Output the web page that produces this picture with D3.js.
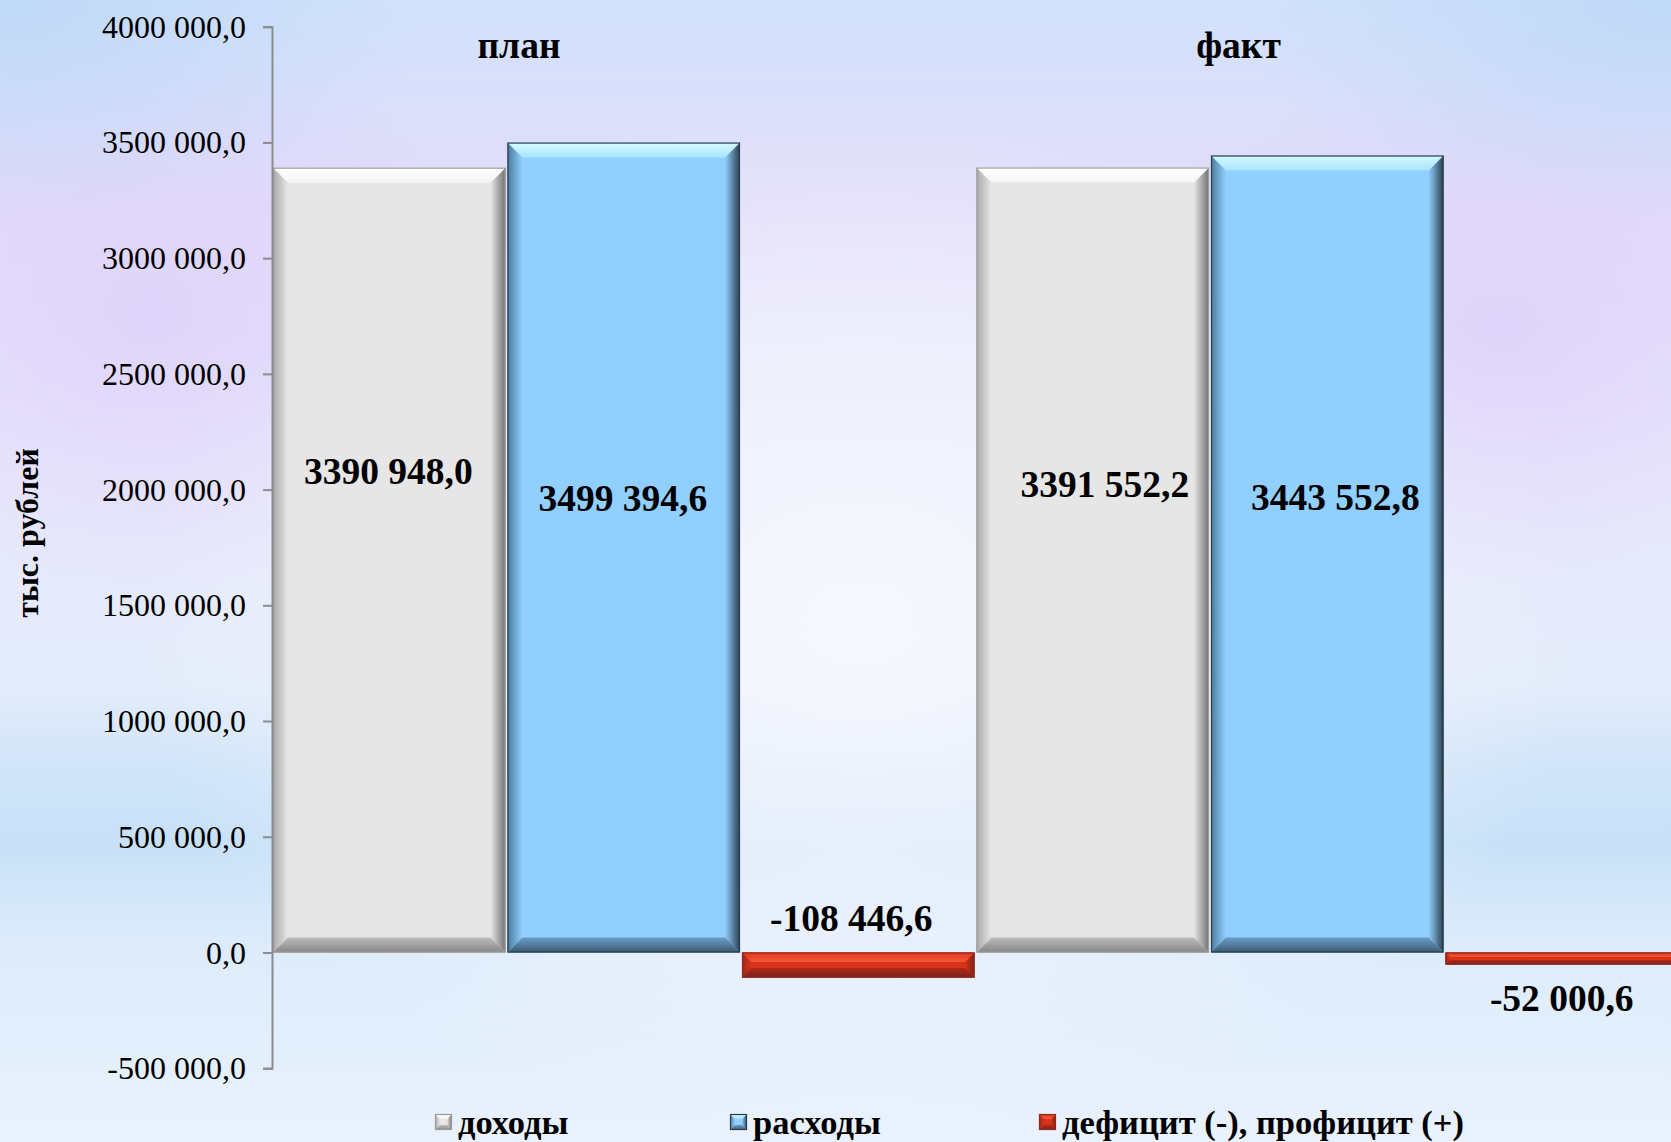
<!DOCTYPE html>
<html><head><meta charset="utf-8">
<script src="https://cdn.jsdelivr.net/npm/d3@7"></script>
<style>html,body{margin:0;padding:0;overflow:hidden;background:#eef2fc}svg{display:block}</style>
</head><body>
<svg id="chart" width="1671" height="1142"></svg>
<script>
// ---- data ----
const categories = ["план", "факт"];
const seriesNames = ["доходы", "расходы", "дефицит (-), профицит (+)"];
const incomeValues = [3390948.0, 3391552.2];
const expenseValues = [3499394.6, 3443552.8];
const balanceValues = [-108446.6, -52000.6];
const yTicks = [-500000, 0, 500000, 1000000, 1500000, 2000000, 2500000, 3000000, 3500000, 4000000];
const axisTitle = "тыс. рублей";

const W = 1671, H = 1142;
const svg = d3.select("#chart");
const defs = svg.append("defs");
const FONT = "'Liberation Serif','Times New Roman',serif";

// ---- background ----
function lin(id, x1, y1, x2, y2, stops) {
  const g = defs.append("linearGradient").attr("id", id)
    .attr("x1", x1).attr("y1", y1).attr("x2", x2).attr("y2", y2);
  stops.forEach(s => g.append("stop").attr("offset", s[0]).attr("stop-color", s[1]).attr("stop-opacity", s[2] === undefined ? 1 : s[2]));
  return g;
}
function rad(id, cx, cy, r, stops) {
  const g = defs.append("radialGradient").attr("id", id)
    .attr("cx", cx).attr("cy", cy).attr("r", r);
  stops.forEach(s => g.append("stop").attr("offset", s[0]).attr("stop-color", s[1]).attr("stop-opacity", s[2] === undefined ? 1 : s[2]));
  return g;
}
lin("bgV", 0, 0, 0, 1, [[0, "#d2e2fb"], [0.18, "#e2dcfa"], [0.4, "#e9e8fc"], [0.6, "#e3ecfb"], [0.68, "#cfe4f9"], [0.74, "#c8e1f8"], [0.82, "#dcebfb"], [1, "#e9f2fd"]]);
svg.append("rect").attr("width", W).attr("height", H).attr("fill", "url(#bgV)");
rad("bgGlow", 0.5, 0.5, 0.5, [[0, "#f8f9fe", 0.95], [0.55, "#f3f5fd", 0.6], [1, "#f3f5fd", 0]]);
svg.append("ellipse").attr("cx", 860).attr("cy", 620).attr("rx", 720).attr("ry", 520).attr("fill", "url(#bgGlow)");
rad("bgPurp", 0.5, 0.5, 0.5, [[0, "#ddd0fa", 0.75], [1, "#ddd0fa", 0]]);
svg.append("ellipse").attr("cx", 1500).attr("cy", 330).attr("rx", 380).attr("ry", 260).attr("fill", "url(#bgPurp)");
svg.append("ellipse").attr("cx", 150).attr("cy", 320).attr("rx", 360).attr("ry", 280).attr("fill", "url(#bgPurp)");
rad("bgBlue", 0.5, 0.5, 0.5, [[0, "#bcd8f7", 0.85], [1, "#bcd8f7", 0]]);
svg.append("ellipse").attr("cx", 0).attr("cy", 0).attr("rx", 440).attr("ry", 220).attr("fill", "url(#bgBlue)");
svg.append("ellipse").attr("cx", W).attr("cy", 0).attr("rx", 440).attr("ry", 220).attr("fill", "url(#bgBlue)");

// ---- scales ----
const plotLeft = 272, plotTop = 26.7, plotBottom = 1068.2, groupW = 703.5;
const x0 = d3.scaleBand().domain(categories).range([plotLeft, plotLeft + groupW * categories.length]).paddingInner(0).paddingOuter(0);
const x1 = d3.scaleBand().domain(seriesNames).range([0, x0.bandwidth()]).padding(0);
const y = d3.scaleLinear().domain([-500000, 4000000]).range([plotBottom, plotTop]);

// ---- bar styles (bevel) ----
const styles = [
  { base: "#e6e6e6", top: ["#ffffff", "#f4f4f4"], left: ["#a8a8a8", "#e6e6e6"], right: ["#e6e6e6", "#707070"], bottom: ["#bdbdbd", "#858585"], stroke: "#9a9a9a" },
  { base: "#91cffe", top: ["#d6faff", "#a8e4fe"], left: ["#4a7a9c", "#91cffe"], right: ["#91cffe", "#2a3e4e"], bottom: ["#6a9ec6", "#3a5a74"], stroke: "#2b3b4a" },
  { base: "#d9321a", top: ["#e0361a", "#f2583a"], left: ["#a02818", "#d9321a"], right: ["#d9321a", "#7a2014"], bottom: ["#b02a1a", "#7a2218"], stroke: "#8a2a1e" }
];
styles.forEach((s, i) => {
  lin("t" + i, 0, 0, 0, 1, [[0, s.top[0]], [1, s.top[1]]]);
  lin("b" + i, 0, 0, 0, 1, [[0, s.bottom[0]], [1, s.bottom[1]]]);
  lin("l" + i, 0, 0, 1, 0, [[0, s.left[0]], [1, s.left[1]]]);
  lin("r" + i, 0, 0, 1, 0, [[0, s.right[0]], [1, s.right[1]]]);
});

function bevelBar(g, x, yy, w, h, si, bMax) {
  const b = Math.min(bMax, h * 0.38);
  const s = styles[si];
  const P = pts => pts.map(p => p.join(",")).join(" ");
  g.append("rect").attr("x", x).attr("y", yy).attr("width", w).attr("height", h).attr("fill", s.base);
  g.append("polygon").attr("points", P([[x, yy], [x + b, yy + b], [x + b, yy + h - b], [x, yy + h]])).attr("fill", `url(#l${si})`);
  g.append("polygon").attr("points", P([[x + w, yy], [x + w - b, yy + b], [x + w - b, yy + h - b], [x + w, yy + h]])).attr("fill", `url(#r${si})`);
  g.append("polygon").attr("points", P([[x, yy], [x + w, yy], [x + w - b, yy + b], [x + b, yy + b]])).attr("fill", `url(#t${si})`);
  g.append("polygon").attr("points", P([[x, yy + h], [x + w, yy + h], [x + w - b, yy + h - b], [x + b, yy + h - b]])).attr("fill", `url(#b${si})`);
  g.append("rect").attr("x", x + 0.5).attr("y", yy + 0.5).attr("width", Math.max(0, w - 1)).attr("height", Math.max(0, h - 1))
    .attr("fill", "none").attr("stroke", s.stroke).attr("stroke-width", 1.2);
}

const seriesValues = [incomeValues, expenseValues, balanceValues];
const bars = svg.append("g");
categories.forEach((c, ci) => {
  seriesNames.forEach((sn, si) => {
    const v = seriesValues[si][ci];
    const bx = x0(c) + x1(sn);
    const yTop = y(Math.max(0, v)), yBot = y(Math.min(0, v));
    bevelBar(bars, bx + 1, yTop, x1.bandwidth() - 2, yBot - yTop, si, 15);
  });
});

// number format like "3390 948,0" (only the last thousands group separated)
const fmtNum = v => {
  const neg = v < 0; const a = Math.abs(v);
  const [ip, dp] = a.toFixed(1).split(".");
  const s = ip.length > 3 ? ip.slice(0, ip.length - 3) + " " + ip.slice(-3) : ip;
  return (neg ? "-" : "") + s + "," + dp;
};

// ---- axis ----
const axis = svg.append("g").attr("transform", `translate(${plotLeft},0)`)
  .call(d3.axisLeft(y).tickValues(yTicks).tickFormat(fmtNum).tickSize(9).tickSizeOuter(9).tickPadding(17));
axis.select(".domain").attr("stroke", "#8c8c8c").attr("stroke-width", 2);
axis.selectAll(".tick line").attr("stroke", "#8c8c8c").attr("stroke-width", 2);
axis.selectAll(".tick text").attr("font-family", FONT)
  .attr("font-size", 32).attr("fill", "#000").attr("dy", "0.33em");

svg.append("text").attr("transform", `translate(38,${533}) rotate(-90)`)
  .attr("text-anchor", "middle").attr("font-family", FONT)
  .attr("font-weight", "bold").attr("font-size", 32).text(axisTitle);

// ---- category labels ----
const catLabelOffset = [247, 263];
categories.forEach((c, ci) => {
  svg.append("text").attr("x", x0(c) + catLabelOffset[ci]).attr("y", 45).attr("dy", "0.35em")
    .attr("text-anchor", "middle").attr("font-family", FONT)
    .attr("font-weight", "bold").attr("font-size", 37.5).text(c);
});

// ---- value labels ----
const labelLevel = [[2080000, 2024000], [1964000, 1968000], [150800, -194500]];
const labelDx = [[-1, 12], [-1, 8], [-7, 0]];
categories.forEach((c, ci) => {
  seriesNames.forEach((sn, si) => {
    const v = seriesValues[si][ci];
    const cx = x0(c) + x1(sn) + x1.bandwidth() / 2 + labelDx[si][ci];
    svg.append("text").attr("x", cx).attr("y", y(labelLevel[si][ci])).attr("dy", "0.35em")
      .attr("text-anchor", "middle").attr("font-family", FONT)
      .attr("font-weight", "bold").attr("font-size", 37.5).attr("fill", "#000").text(fmtNum(v));
  });
});

// ---- legend ----
const legendX = [435, 730, 1039];
const legend = svg.append("g");
seriesNames.forEach((sn, si) => {
  const lx = legendX[si], ly = 1114;
  bevelBar(legend, lx, ly, 17, 16, si, 5);
  legend.append("text").attr("x", lx + 23).attr("y", 1122).attr("dy", "0.35em")
    .attr("font-family", FONT)
    .attr("font-weight", "bold").attr("font-size", 34.5).text(sn);
});
</script>
</body></html>
